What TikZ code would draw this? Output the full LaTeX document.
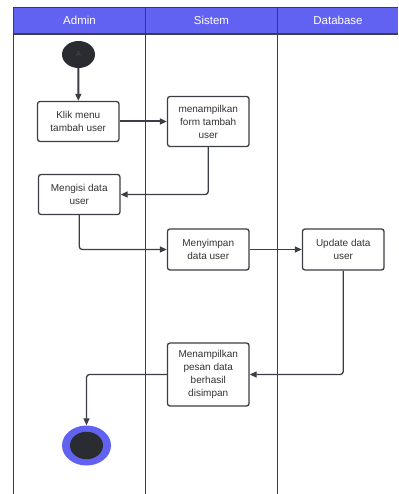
\documentclass[tikz,border=0pt]{standalone}
\usepackage{fontspec}
\setmainfont{Liberation Sans}
\usetikzlibrary{arrows.meta,shapes.geometric}
\definecolor{hdr}{HTML}{6262F2}
\definecolor{ln}{HTML}{3B3E45}
\definecolor{dk}{HTML}{2A2C31}
\definecolor{txt}{HTML}{333333}
\definecolor{faint}{HTML}{4A4D55}
\begin{document}
\begin{tikzpicture}[x=1pt,y=-1pt,
  box/.style={draw=ln,line width=1.3pt,rounded corners=2.5pt,fill=white,align=center,
    text=txt,font=\fontsize{10}{13}\selectfont,inner sep=2pt},
  conn/.style={draw=ln,line width=1.3pt,rounded corners=3pt,-{Triangle[length=7pt,width=6pt]}},
  thickconn/.style={conn,line width=2pt},
  lane/.style={draw=ln,line width=1.3pt},
  hdrtext/.style={text=white,font=\fontsize{11.5}{13}\selectfont}]
\useasboundingbox (0,0) rectangle (398,494);
% header band and frame
\fill[hdr] (13.5,7.5) rectangle (398,34);
\draw[lane] (398,7.5) -- (13.5,7.5) -- (13.5,494);
\draw[lane] (13.5,34) -- (398,34);
\draw[lane] (145.5,7.5) -- (145.5,494);
\draw[lane] (277.5,7.5) -- (277.5,494);
\node[hdrtext] (hadmin) at (79.5,20) {Admin};
\node[hdrtext] (hsistem) at (211.5,20) {Sistem};
\node[hdrtext] (hdb) at (338,20) {Database};
% start
\node[ellipse,fill=dk,minimum width=33pt,minimum height=27pt,inner sep=0pt,
  text=faint,font=\fontsize{7}{8}\selectfont] (start) at (78.5,54.5) {A};
% boxes
\node[box,minimum width=81.5pt,minimum height=40pt] (klik) at (78.25,121.5) {Klik menu\\tambah user};
\node[box,minimum width=81.5pt,minimum height=50pt] (form) at (208.25,121.5) {menampilkan\\form tambah\\user};
\node[box,minimum width=81.5pt,minimum height=40pt] (isi) at (79.25,194.5) {Mengisi data\\user};
\node[box,minimum width=81.5pt,minimum height=41pt] (simpan) at (208.25,249.5) {Menyimpan\\data user};
\node[box,minimum width=81.5pt,minimum height=41pt] (update) at (343.25,249.5) {Update data\\user};
\node[box,minimum width=81.5pt,minimum height=63pt] (pesan) at (208.25,374.5) {Menampilkan\\pesan data\\berhasil\\disimpan};
% end
\node[ellipse,fill=hdr,minimum width=49pt,minimum height=40pt,inner sep=0pt] (endo) at (86.5,445.5) {};
\node[ellipse,fill=dk,minimum width=33pt,minimum height=27.5pt,inner sep=0pt] (endi) at (endo.center) {};
% connectors
\draw[thickconn] (start) -- (klik);
\draw[thickconn] (klik.east) -- (form.west);
\draw[conn] (form.south) |- (isi.east);
\draw[conn] (isi.south) |- (simpan.west);
\draw[conn] (simpan.east) -- (update.west);
\draw[conn] (update.south) |- (pesan.east);
\draw[conn] (pesan.west) -| (endo.north);
\end{tikzpicture}
\end{document}
